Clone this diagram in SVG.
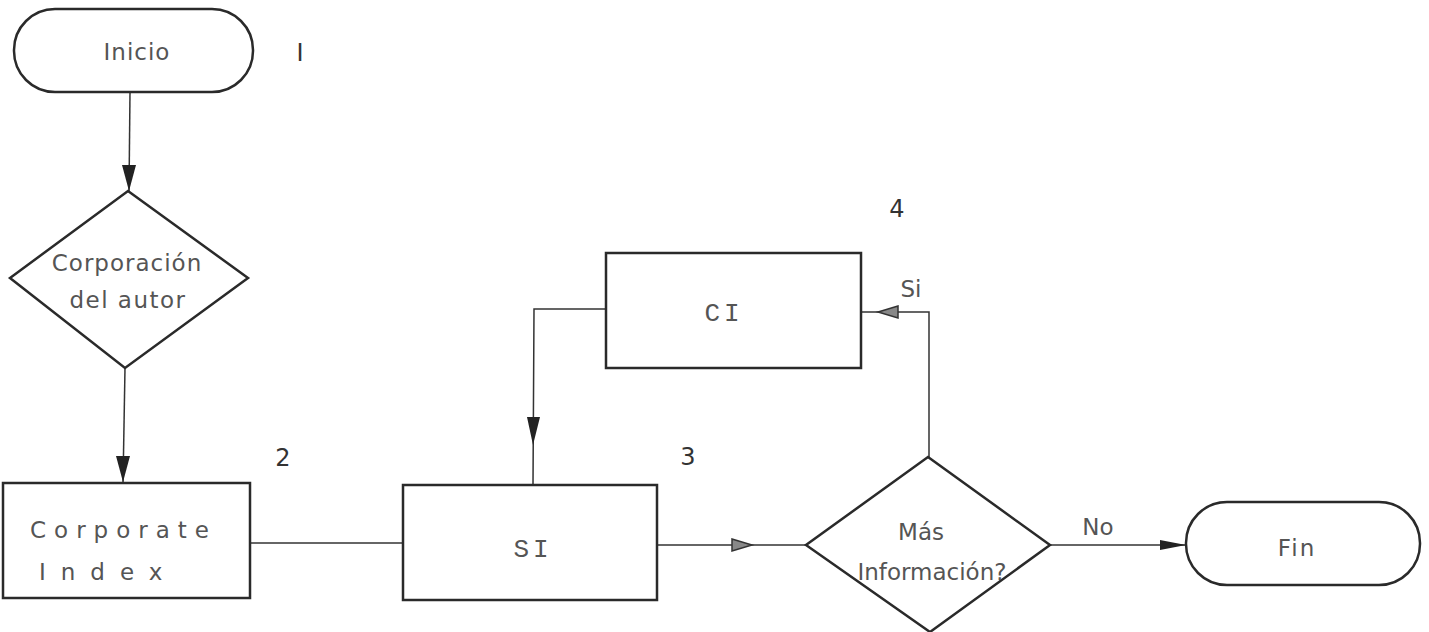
<svg xmlns="http://www.w3.org/2000/svg" width="1429" height="632" viewBox="0 0 1429 632">
<style>
.shape{fill:none;stroke:#2a2a2a;stroke-width:2.5}
.line{fill:none;stroke:#333;stroke-width:1.5}
.t{font-family:"DejaVu Sans","Liberation Sans",sans-serif;font-size:23px;fill:#555}
.m{font-family:"Liberation Mono",monospace;font-size:26px;fill:#555}
.n{font-family:"DejaVu Sans","Liberation Sans",sans-serif;font-size:24px;fill:#333}
.head{fill:#222}
.open{fill:#888;stroke:#333;stroke-width:1.5}
</style>
<rect width="1429" height="632" fill="#fff"/>
<g id="connectors">
<line class="line" x1="130" y1="92" x2="129" y2="191"/>
<path class="head" d="M122,165 L136,165 L129,191 z"/>
<line class="line" x1="125" y1="368" x2="123" y2="483"/>
<path class="head" d="M116,456 L130,456 L123,482 z"/>
<line class="line" x1="250" y1="543" x2="404" y2="543"/>
<polyline class="line" points="606,309 534,309 533,485"/>
<path class="head" d="M527,417 L540,417 L533,445 z"/>
<line class="line" x1="657" y1="545" x2="806" y2="545"/>
<path class="open" d="M732,539 L752,545 L732,551 z"/>
<polyline class="line" points="929,457 929,312 861,312"/>
<path class="open" d="M898,306 L878,312 L898,318 z"/>
<line class="line" x1="1050" y1="545" x2="1186" y2="545"/>
<path class="head" d="M1160,540 L1186,545 L1160,550 z"/>
<text class="t" x="911" y="297" text-anchor="middle">Si</text>
<text class="t" x="1098" y="535" text-anchor="middle">No</text>
</g>
<g id="inicio">
<rect class="shape" x="14" y="9" width="239" height="83" rx="41" ry="41" stroke-width="2"/>
<text class="t" x="137" y="60" text-anchor="middle" letter-spacing="1">Inicio</text>
<text class="n" x="300" y="61" text-anchor="middle">I</text>
</g>
<g id="corporacion">
<polygon class="shape" points="128,191 248,278 125,368 10,278"/>
<text class="t" x="127" y="271" text-anchor="middle" letter-spacing="1">Corporación</text>
<text class="t" x="128" y="308" text-anchor="middle" letter-spacing="1.5">del autor</text>
</g>
<g id="corporate-index">
<rect class="shape" x="3" y="483" width="247" height="115"/>
<text class="t" x="30" y="538" letter-spacing="8">Corporate</text>
<text class="t" x="39" y="580" letter-spacing="15">Index</text>
<text class="n" x="283" y="466" text-anchor="middle">2</text>
</g>
<g id="si">
<rect class="shape" x="403" y="485" width="254" height="115"/>
<text class="m" x="533" y="557" text-anchor="middle" letter-spacing="4">SI</text>
<text class="n" x="688" y="465" text-anchor="middle">3</text>
</g>
<g id="ci">
<rect class="shape" x="606" y="253" width="255" height="115"/>
<text class="m" x="724" y="321" text-anchor="middle" letter-spacing="4">CI</text>
<text class="n" x="897" y="217" text-anchor="middle">4</text>
</g>
<g id="mas-informacion">
<polygon class="shape" points="928,457 1050,545 930,632 806,545"/>
<text class="t" x="921" y="540" text-anchor="middle">Más</text>
<text class="t" x="932" y="580" text-anchor="middle">Información?</text>
</g>
<g id="fin">
<rect class="shape" x="1186" y="502" width="234" height="83" rx="41" ry="41" stroke-width="2"/>
<text class="t" x="1297" y="556" text-anchor="middle" letter-spacing="2">Fin</text>
</g>
</svg>
